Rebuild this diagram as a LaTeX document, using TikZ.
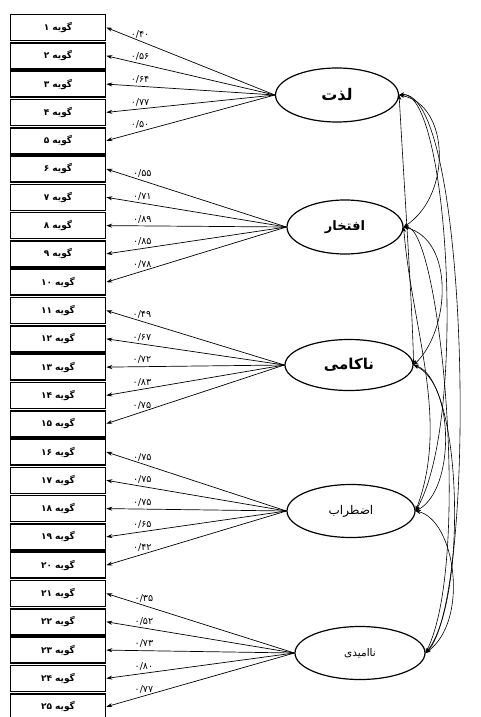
\documentclass[tikz,border=0pt]{standalone}
\usepackage{fontspec}
\TeXXeTstate=1
\newfontfamily\fa[Script=Arabic]{DejaVu Sans}
\usetikzlibrary{arrows.meta,shapes.geometric}
\begin{document}
\begin{tikzpicture}[x=1pt,y=-1pt,
  item/.style={draw, line width=1.6pt, minimum width=95pt, minimum height=26pt, inner sep=0pt, font=\fa\bfseries\fontsize{9}{10}\selectfont},
  factor/.style={draw, ellipse, line width=1.2pt, inner sep=0pt},
  load/.style={line width=0.7pt, -{Stealth[length=6pt,width=4pt]}},
  cov/.style={line width=0.6pt, {Stealth[length=5pt,width=4pt]}-{Stealth[length=5pt,width=4pt]}},
  lab/.style={font=\fa\fontsize{9.5}{10}\selectfont, inner sep=1pt, above=1.5pt}]
\useasboundingbox (0,0) rectangle (480,717);
\fill[white] (0,0) rectangle (480,717);

\foreach \i/\n in {1/۱,2/۲,3/۳,4/۴,5/۵,6/۶,7/۷,8/۸,9/۹,10/۱۰,11/۱۱,12/۱۲,13/۱۳,14/۱۴,15/۱۵,16/۱۶,17/۱۷,18/۱۸,19/۱۹,20/۲۰,21/۲۱,22/۲۲,23/۲۳,24/۲۴,25/۲۵}
  \node[item] (b\i) at (58,{27.5+(\i-1)*28.3}) {\beginR گویه \beginL\n\endL\endR};

\node[factor, minimum width=123pt, minimum height=54pt, font=\fa\bfseries\fontsize{16}{18}\selectfont] (f1) at (337,95) {\beginR لذت\endR};
\node[factor, minimum width=116pt, minimum height=54pt, font=\fa\bfseries\fontsize{13}{15}\selectfont] (f2) at (345,227) {\beginR افتخار\endR};
\node[factor, minimum width=128pt, minimum height=51pt, font=\fa\bfseries\fontsize{15}{17}\selectfont] (f3) at (349,365) {\beginR ناکامی\endR};
\node[factor, minimum width=128pt, minimum height=53pt, font=\fa\fontsize{12}{14}\selectfont] (f4) at (351,511) {\beginR اضطراب\endR};
\node[factor, minimum width=130pt, minimum height=53pt, font=\fa\fontsize{10.5}{12}\selectfont] (f5) at (360,653) {\beginR ناامیدی\endR};

% loadings
\draw[load] (f1.west) -- (b1.east) node[lab,pos=0.8] {۰/۴۰};
\draw[load] (f1.west) -- (b2.east) node[lab,pos=0.8] {۰/۵۶};
\draw[load] (f1.west) -- (b3.east) node[lab,pos=0.8] {۰/۶۴};
\draw[load] (f1.west) -- (b4.east) node[lab,pos=0.8] {۰/۷۷};
\draw[load] (f1.west) -- (b5.east) node[lab,pos=0.8] {۰/۵۰};
\draw[load] (f2.west) -- (b6.east) node[lab,pos=0.8] {۰/۵۵};
\draw[load] (f2.west) -- (b7.east) node[lab,pos=0.8] {۰/۷۱};
\draw[load] (f2.west) -- (b8.east) node[lab,pos=0.8] {۰/۸۹};
\draw[load] (f2.west) -- (b9.east) node[lab,pos=0.8] {۰/۸۵};
\draw[load] (f2.west) -- (b10.east) node[lab,pos=0.8] {۰/۷۸};
\draw[load] (f3.west) -- (b11.east) node[lab,pos=0.8] {۰/۴۹};
\draw[load] (f3.west) -- (b12.east) node[lab,pos=0.8] {۰/۶۷};
\draw[load] (f3.west) -- (b13.east) node[lab,pos=0.8] {۰/۷۲};
\draw[load] (f3.west) -- (b14.east) node[lab,pos=0.8] {۰/۸۳};
\draw[load] (f3.west) -- (b15.east) node[lab,pos=0.8] {۰/۷۵};
\draw[load] (f4.west) -- (b16.east) node[lab,pos=0.8] {۰/۷۵};
\draw[load] (f4.west) -- (b17.east) node[lab,pos=0.8] {۰/۷۵};
\draw[load] (f4.west) -- (b18.east) node[lab,pos=0.8] {۰/۷۵};
\draw[load] (f4.west) -- (b19.east) node[lab,pos=0.8] {۰/۶۵};
\draw[load] (f4.west) -- (b20.east) node[lab,pos=0.8] {۰/۴۲};
\draw[load] (f5.west) -- (b21.east) node[lab,pos=0.8] {۰/۳۵};
\draw[load] (f5.west) -- (b22.east) node[lab,pos=0.8] {۰/۵۲};
\draw[load] (f5.west) -- (b23.east) node[lab,pos=0.8] {۰/۷۳};
\draw[load] (f5.west) -- (b24.east) node[lab,pos=0.8] {۰/۸۰};
\draw[load] (f5.west) -- (b25.east) node[lab,pos=0.8] {۰/۷۷};

% covariances
\draw[cov] (f1.east) .. controls (450,105) and (452,195) .. (f2.east);
\draw[cov] (f1.east) .. controls (405,200) and (412,300) .. (f3.east);
\draw[cov] (f1.east) .. controls (448,88) and (468,420) .. (f4.east);
\draw[cov] (f1.east) .. controls (470,88) and (478,600) .. (f5.east);
\draw[cov] (f2.east) .. controls (455,240) and (450,330) .. (f3.east);
\draw[cov] (f2.east) .. controls (412,330) and (450,420) .. (f4.east);
\draw[cov] (f2.east) .. controls (440,227) and (472,560) .. (f5.east);
\draw[cov] (f3.east) .. controls (455,385) and (455,490) .. (f4.east);
\draw[cov] (f3.east) .. controls (462,380) and (468,600) .. (f5.east);
\draw[cov] (f4.east) .. controls (455,520) and (470,620) .. (f5.east);
\end{tikzpicture}
\end{document}
